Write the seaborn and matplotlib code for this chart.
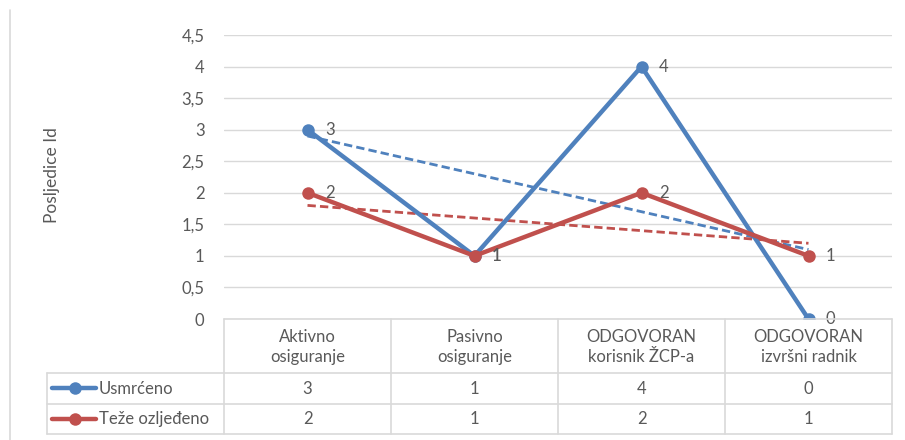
import numpy as np
import pandas as pd
import matplotlib
matplotlib.use("Agg")
import matplotlib.pyplot as plt
from matplotlib.lines import Line2D
import seaborn as sns

categories = ["Aktivno\nosiguranje", "Pasivno\nosiguranje", "ODGOVORAN\nkorisnik ŽCP-a", "ODGOVORAN\nizvršni radnik"]
series_names = ["Usmrćeno", "Teže ozljeđeno"]
usmrceno = [3, 1, 4, 0]
teze = [2, 1, 2, 1]
yticks = [0, 0.5, 1, 1.5, 2, 2.5, 3, 3.5, 4, 4.5]
ylabel = "Posljedice Id"

colors = ["#4F81BD", "#C0504D"]
TXT = "#595959"
GRID = "#D9D9D9"
FS = 12

sns.set_theme(style="white")
plt.rcParams["font.family"] = ["Lato", "DejaVu Sans"]

W, H = 905, 440
fig = plt.figure(figsize=(W / 100, H / 100), dpi=100)

# pixel geometry
x0, x1 = 224, 892
y_top, y_zero = 35, 319
ax = fig.add_axes([x0 / W, 1 - y_zero / H, (x1 - x0) / W, (y_zero - y_top) / H])
ax.set_xlim(-0.5, len(categories) - 0.5)
ax.set_ylim(0, 4.5)

xs = np.arange(len(categories))
df = pd.DataFrame({
    "x": np.concatenate([xs, xs]),
    "y": usmrceno + teze,
    "s": [series_names[0]] * 4 + [series_names[1]] * 4,
})

# trendlines
for vals, c in zip([usmrceno, teze], colors):
    sns.regplot(x=xs, y=np.array(vals, float), ax=ax, scatter=False, ci=None,
                color=c, line_kws={"ls": (0, (3, 1.5)), "lw": 2.0, "zorder": 2})

sns.lineplot(data=df, x="x", y="y", hue="s", palette=colors, marker="o",
             markersize=9, markeredgewidth=0, lw=3.2, ax=ax, legend=False, zorder=3)

for vals in [usmrceno, teze]:
    for xi, v in zip(xs, vals):
        ax.annotate(str(v), (xi, v), xytext=(12.5, 0), textcoords="offset points",
                    ha="left", va="center", fontsize=FS, color=TXT, zorder=5,
                    annotation_clip=False)

ax.set_yticks(yticks)
ax.set_yticklabels([("%g" % t).replace(".", ",") for t in yticks], color=TXT, fontsize=FS)
ax.tick_params(axis="y", length=0, pad=14)
ax.set_xticks([])
ax.set_xlabel("")
ax.set_ylabel("")
ax.grid(axis="y", color=GRID, lw=1)
for sp in ax.spines.values():
    sp.set_visible(False)

# overlay axes in pixel coords for table and labels
ov = fig.add_axes([0, 0, 1, 1], facecolor="none")
ov.set_xlim(0, W)
ov.set_ylim(H, 0)
ov.axis("off")

def hline(xa, xb, y):
    ov.add_line(Line2D([xa, xb], [y, y], color=GRID, lw=1.2))

def vline(x, ya, yb):
    ov.add_line(Line2D([x, x], [ya, yb], color=GRID, lw=1.2))

# outer faint frame line at left
vline(10, 10, H)

col_w = (x1 - x0) / len(categories)
r_head, r1, r2, r_bot = 319, 373, 404, 434
leg_x = 47
hline(x0, x1, r_head)
hline(leg_x, x1, r1)
hline(leg_x, x1, r2)
hline(leg_x, x1, r_bot)
vline(leg_x, r1, r_bot)
for i in range(len(categories) + 1):
    vline(x0 + i * col_w, r_head, r_bot)

for i, cat in enumerate(categories):
    cx = x0 + (i + 0.5) * col_w
    ov.text(cx, (r_head + r1) / 2 + 1, cat, ha="center", va="center", fontsize=FS,
            color=TXT, linespacing=1.35)
    for vals, (ya, yb) in zip([usmrceno, teze], [(r1, r2), (r2, r_bot)]):
        ov.text(cx, (ya + yb) / 2, str(vals[i]), ha="center", va="center",
                fontsize=FS, color=TXT)

for name, c, (ya, yb) in zip(series_names, colors, [(r1, r2), (r2, r_bot)]):
    ym = (ya + yb) / 2
    ov.add_line(Line2D([52, 96], [ym, ym], color=c, lw=3.2))
    ov.plot([75], [ym], marker="o", color=c, markersize=9, markeredgewidth=0)
    ov.text(99, ym, name, ha="left", va="center", fontsize=FS, color=TXT)

ov.text(52, 175, ylabel, rotation=90, ha="center", va="center", fontsize=12.5, color=TXT)

fig.savefig("out.png", dpi=100)
